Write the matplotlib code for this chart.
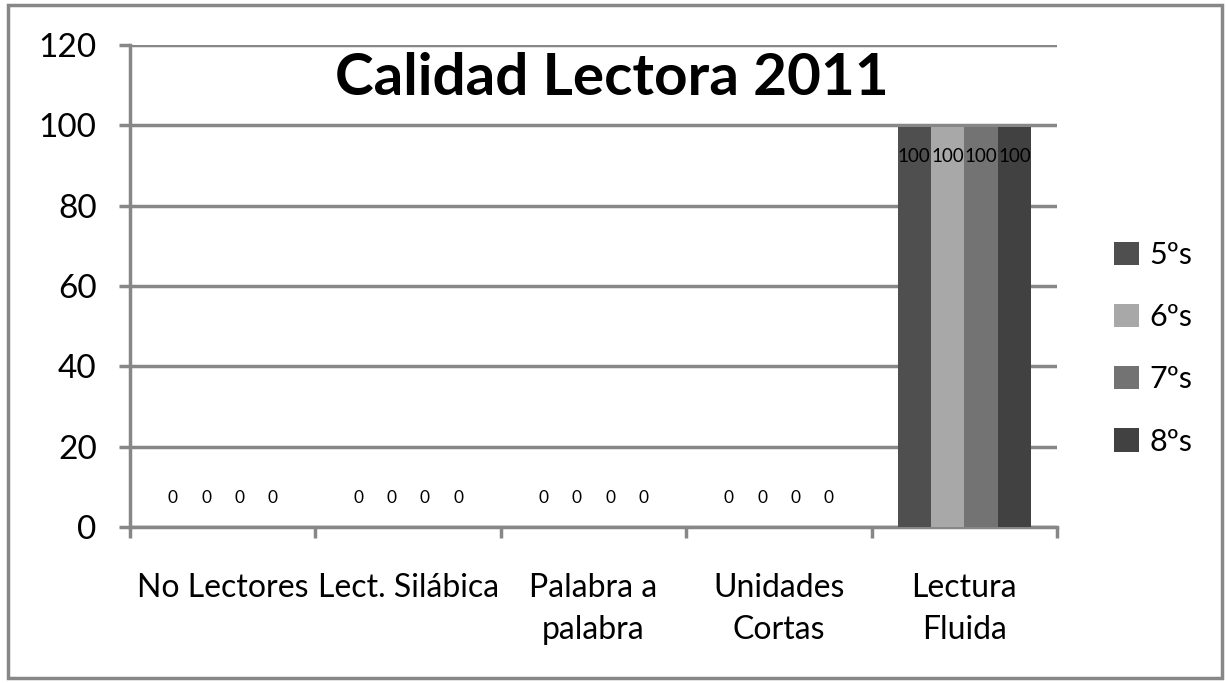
import numpy as np
import matplotlib.pyplot as plt
from matplotlib.patches import Rectangle

# datos
categorias = ["No Lectores", "Lect. Silábica", "Palabra a\npalabra", "Unidades\nCortas", "Lectura\nFluida"]
series = ["5ºs", "6ºs", "7ºs", "8ºs"]
v5 = [0, 0, 0, 0, 99.6]
v6 = [0, 0, 0, 0, 99.6]
v7 = [0, 0, 0, 0, 99.6]
v8 = [0, 0, 0, 0, 99.6]
yticks = [0, 20, 40, 60, 80, 100, 120]

colores = ["#4f4f4f", "#a8a8a8", "#737373", "#414141"]
gris = "#878787"

plt.rcParams['font.family'] = ['Lato', 'DejaVu Sans']

fig = plt.figure(figsize=(12.27, 6.83), dpi=100)
ax = fig.add_axes([130 / 1227, 1 - 527 / 683, 927 / 1227, 482 / 683])

# borde exterior
fig.patches.append(Rectangle((8 / 1227, 5 / 683), 1214 / 1227, 673 / 683,
                             transform=fig.transFigure, fill=False,
                             edgecolor=gris, linewidth=2.5))

x = np.arange(len(categorias))
ancho = 0.18
valores = [v5, v6, v7, v8]
for i, (nombre, vals) in enumerate(zip(series, valores)):
    pos = x + (i - 1.5) * ancho
    ax.bar(pos, vals, ancho, color=colores[i], label=nombre, zorder=3)
    for px, val in zip(pos, vals):
        if val > 50:
            ax.annotate(f"{val:.0f}", (px, val), xytext=(0, -21), textcoords="offset points",
                        ha="center", va="center", fontsize=13.5, color="black", zorder=4)
        else:
            ax.annotate(f"{val:.0f}", (px, val), xytext=(0, 21), textcoords="offset points",
                        ha="center", va="center", fontsize=12.5, color="black", zorder=4)

ax.set_xlim(-0.5, len(categorias) - 0.5)
ax.set_ylim(0, 120)
ax.set_yticks(yticks)
ax.set_yticklabels([str(t) for t in yticks], fontsize=24)
ax.yaxis.grid(True, color=gris, linewidth=2.5, zorder=0)
ax.set_axisbelow(True)

ax.set_xticks(np.arange(len(categorias) + 1) - 0.5, minor=False)
ax.set_xticklabels([])
ax.set_xticks(x, minor=True)
ax.set_xticklabels(categorias, minor=True, fontsize=23, linespacing=1.5)
ax.tick_params(axis='x', which='minor', length=0, pad=33)
ax.tick_params(axis='x', which='major', length=8, width=2.5, color=gris)
ax.tick_params(axis='y', length=8, width=2.5, color=gris, pad=16)

for s in ["top", "right"]:
    ax.spines[s].set_visible(False)
for s in ["left", "bottom"]:
    ax.spines[s].set_color(gris)
    ax.spines[s].set_linewidth(2.5)

ax.text(0.52, 0.93, "Calidad Lectora 2011", transform=ax.transAxes,
        ha="center", va="center", fontsize=42, fontweight="bold", zorder=5)

ax.legend(loc="center left", bbox_to_anchor=(1.032, 0.371), frameon=False,
          fontsize=22, handlelength=0.8, handleheight=0.8, labelspacing=1.12,
          handletextpad=0.35)

fig.savefig("out.png", dpi=100)
